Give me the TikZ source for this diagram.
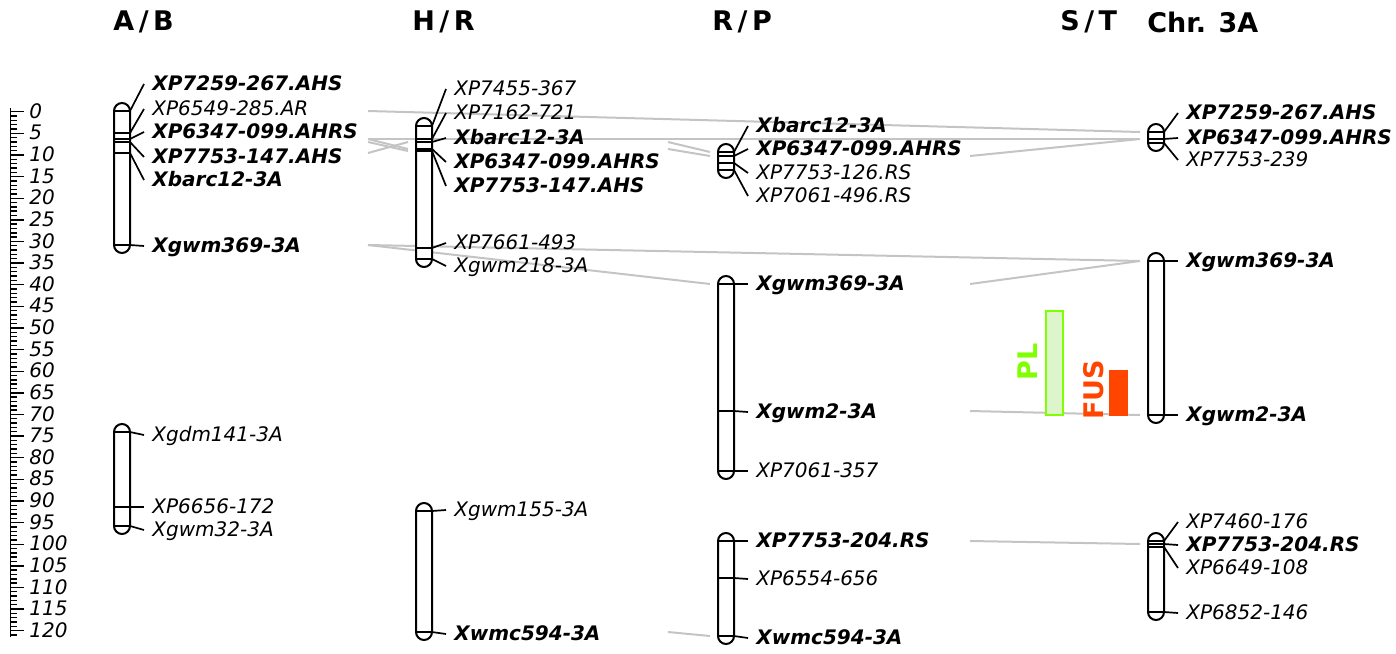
\documentclass[tikz,border=0pt]{standalone}
\usepackage{fontspec}
\setmainfont{DejaVu Sans}
\usetikzlibrary{backgrounds}
\definecolor{linkgray}{HTML}{C4C4C4}
\definecolor{plgreen}{HTML}{80FF00}
\definecolor{plfill}{HTML}{DDF5CB}
\definecolor{fusred}{HTML}{FF4500}

\newcommand{\mkfont}{\fontsize{10}{12}\selectfont\itshape}
\newcommand{\mkbold}{\fontsize{10}{12}\selectfont\bfseries\itshape}

% chromosome bar: centre x, top marker y, bottom marker y
\newcommand{\chrom}[3]{%
  \draw[chrbar] (#1-8,#2-8) rectangle (#1+8,#3+8);}

% marker: name, centre x, marker y, label y, font, text
\newcommand{\marker}[6]{%
  \coordinate (#1) at (#2,#3);
  \node[mklabel, font=#5] (#1-t) at (#2+30,#4) {#6};
  \draw[mkline] (#2-8,#3) -- (#2+8,#3) -- ([xshift=-4pt]#1-t.west);}

\begin{document}
\begin{tikzpicture}[x=0.5pt, y=-0.5pt,
    chrbar/.style={line width=1pt, rounded corners=4pt, fill=white},
    mkline/.style={line width=0.85pt},
    mklabel/.style={anchor=west, inner sep=0pt, text height=1.5ex, text depth=0.3ex},
    link/.style={draw=linkgray, line width=1pt},
    tick/.style={line width=0.7pt},
    hdr/.style={anchor=west, inner sep=0pt, font=\fontsize{13.5}{15}\selectfont\bfseries}]
  \useasboundingbox (0,0) rectangle (1396,653);

  % headers
  \node[hdr] (hAB) at (113,22) {A\,/\,B};
  \node[hdr] (hHR) at (412,22) {H\,/\,R};
  \node[hdr] (hRP) at (712,22) {R\,/\,P};
  \node[hdr] (hST) at (1060,22) {S\,/\,T};
  \node[hdr] (h3A) at (1147,22) {Chr. 3A};

  % cM ruler
  \draw[line width=0.9pt] (10.5,108) -- (10.5,637);
  \foreach \i in {0,...,121}
    \draw[tick] (10.5,{111.7+4.325*\i}) -- ++(6.5,0);
  \foreach \i in {0,5,...,120} {
    \draw[tick] (10.5,{111.7+4.325*\i}) -- ++(13.5,0);
    \node[mklabel, font=\mkfont] (r\i) at (29,{111.7+4.325*\i}) {\i};
  }

  % A/B
  \chrom{122}{111}{245}
  \marker{ab7259}{122}{111}{84}{\mkbold}{XP7259-267.AHS}
  \marker{ab6549}{122}{133}{109}{\mkfont}{XP6549-285.AR}
  \marker{ab6347}{122}{139}{132}{\mkbold}{XP6347-099.AHRS}
  \marker{ab7753}{122}{142}{157}{\mkbold}{XP7753-147.AHS}
  \marker{abbarc}{122}{153}{180}{\mkbold}{Xbarc12-3A}
  \marker{ab369}{122}{245}{246}{\mkbold}{Xgwm369-3A}
  \chrom{122}{432}{526}
  \marker{abgdm}{122}{432}{435}{\mkfont}{Xgdm141-3A}
  \marker{ab6656}{122}{507}{507}{\mkfont}{XP6656-172}
  \marker{ab32}{122}{526}{530}{\mkfont}{Xgwm32-3A}

  % H/R
  \chrom{424}{126}{259}
  \marker{hr7455}{424}{126}{89}{\mkfont}{XP7455-367}
  \marker{hr7162}{424}{139}{113}{\mkfont}{XP7162-721}
  \marker{hrbarc}{424}{142}{138}{\mkbold}{Xbarc12-3A}
  \marker{hr6347}{424}{149}{162}{\mkbold}{XP6347-099.AHRS}
  \marker{hr7753}{424}{151}{186}{\mkbold}{XP7753-147.AHS}
  \marker{hr7661}{424}{248}{243}{\mkfont}{XP7661-493}
  \marker{hr218}{424}{259}{266}{\mkfont}{Xgwm218-3A}
  \chrom{424}{511}{632}
  \marker{hr155}{424}{511}{510}{\mkfont}{Xgwm155-3A}
  \marker{hr594}{424}{632}{634}{\mkbold}{Xwmc594-3A}

  % R/P
  \chrom{726}{152}{170}
  \marker{rpbarc}{726}{152}{126}{\mkbold}{Xbarc12-3A}
  \marker{rp6347}{726}{156}{149}{\mkbold}{XP6347-099.AHRS}
  \marker{rp7753}{726}{163}{173}{\mkfont}{XP7753-126.RS}
  \marker{rp7061}{726}{170}{196}{\mkfont}{XP7061-496.RS}
  \chrom{726}{284}{471}
  \marker{rp369}{726}{284}{284}{\mkbold}{Xgwm369-3A}
  \marker{rp2}{726}{411}{412}{\mkbold}{Xgwm2-3A}
  \marker{rp357}{726}{471}{471}{\mkfont}{XP7061-357}
  \chrom{726}{541}{636}
  \marker{rp204}{726}{541}{541}{\mkbold}{XP7753-204.RS}
  \marker{rp656}{726}{578}{579}{\mkfont}{XP6554-656}
  \marker{rp594}{726}{636}{638}{\mkbold}{Xwmc594-3A}

  % S/T: QTL bars
  \draw[draw=plgreen, fill=plfill, line width=1pt] (1046,311) rectangle (1063,415);
  \node[rotate=90, inner sep=0pt, text=plgreen, font=\fontsize{13.5}{15}\selectfont\bfseries] (pl) at (1028,362) {PL};
  \fill[fusred] (1109,370) rectangle (1128,416);
  \node[rotate=90, inner sep=0pt, text=fusred, font=\fontsize{13.5}{15}\selectfont\bfseries] (fus) at (1094,390) {FUS};

  % Chr. 3A
  \chrom{1156}{132}{143}
  \marker{c7259}{1156}{132}{113}{\mkbold}{XP7259-267.AHS}
  \marker{c6347}{1156}{139}{138}{\mkbold}{XP6347-099.AHRS}
  \marker{c7753}{1156}{143}{160}{\mkfont}{XP7753-239}
  \chrom{1156}{261}{415}
  \marker{c369}{1156}{261}{261}{\mkbold}{Xgwm369-3A}
  \marker{c2}{1156}{415}{415}{\mkbold}{Xgwm2-3A}
  \chrom{1156}{541}{612}
  \marker{c7460}{1156}{541}{522}{\mkfont}{XP7460-176}
  \marker{c204}{1156}{544}{545}{\mkbold}{XP7753-204.RS}
  \marker{c6649}{1156}{547}{568}{\mkfont}{XP6649-108}
  \marker{c6852}{1156}{612}{613}{\mkfont}{XP6852-146}

  % homology links
  \coordinate (abR) at (368,0);
  \coordinate (hrL) at (408,0);
  \coordinate (hrR) at (668,0);
  \coordinate (rpL) at (710,0);
  \coordinate (rpR) at (970,0);
  \coordinate (cL) at (1140,0);
  \begin{scope}[on background layer]
    \draw[link] (ab7259 -| abR) -- (c7259 -| cL);
    \draw[link] (ab6347 -| abR) -- (c6347 -| cL);
    \draw[link] (ab6347 -| abR) -- (hr6347 -| hrL);
    \draw[link] (ab7753 -| abR) -- (hr7753 -| hrL);
    \draw[link] (abbarc -| abR) -- (hrbarc -| hrL);
    \draw[link] (hrbarc -| hrR) -- (rpbarc -| rpL);
    \draw[link] (hr6347 -| hrR) -- (rp6347 -| rpL);
    \draw[link] (rp6347 -| rpR) -- (c6347 -| cL);
    \draw[link] (ab369 -| abR) -- (c369 -| cL);
    \draw[link] (ab369 -| abR) -- (rp369 -| rpL);
    \draw[link] (rp369 -| rpR) -- (c369 -| cL);
    \draw[link] (rp2 -| rpR) -- (c2 -| cL);
    \draw[link] (rp204 -| rpR) -- (c204 -| cL);
    \draw[link] (hr594 -| hrR) -- (rp594 -| rpL);
  \end{scope}
\end{tikzpicture}
\end{document}
